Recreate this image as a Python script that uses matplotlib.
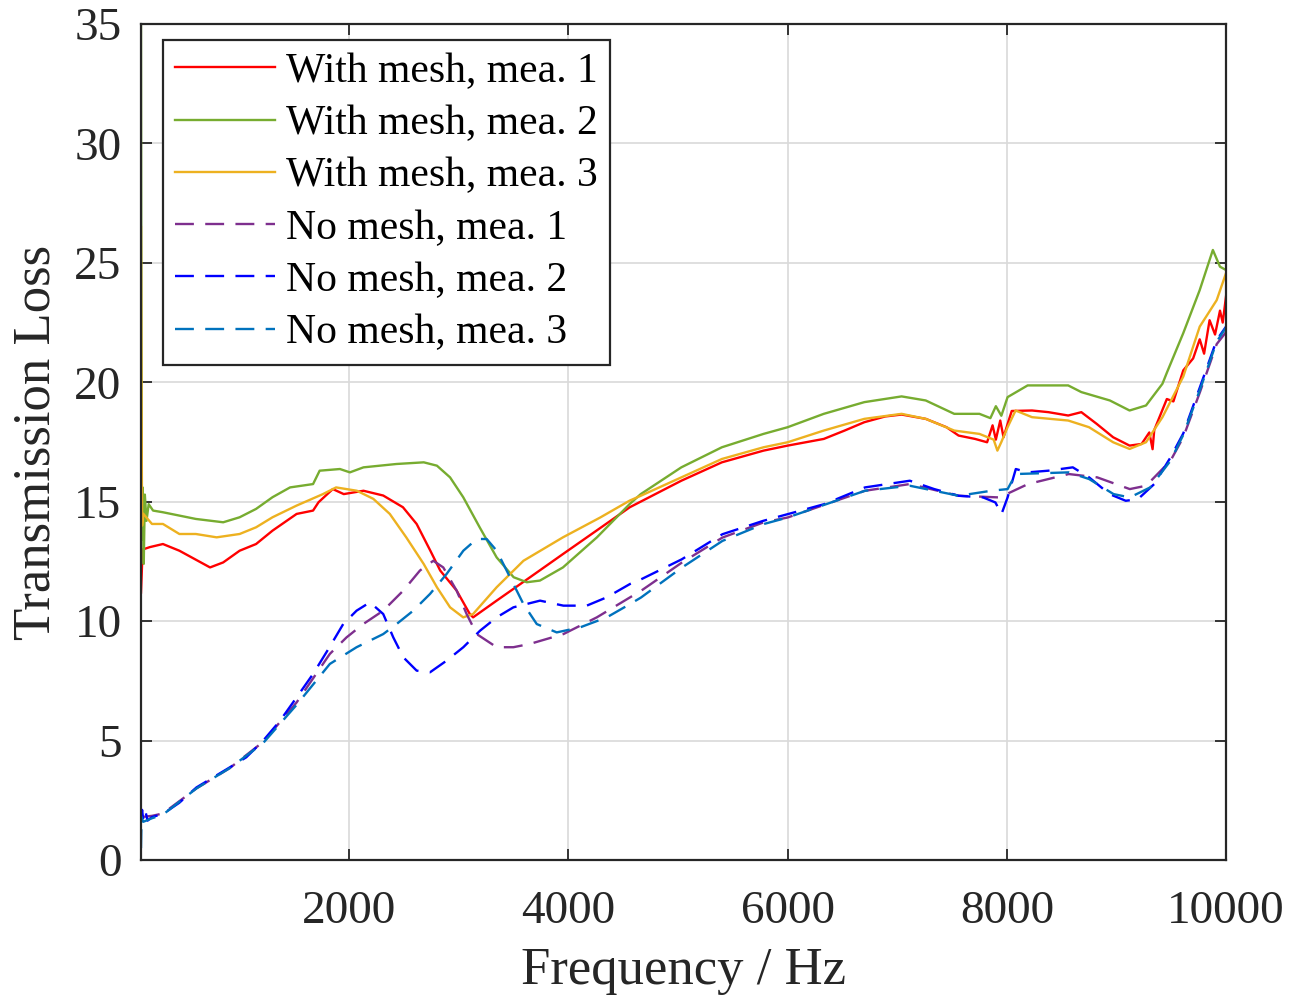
import matplotlib
matplotlib.use("Agg")
import matplotlib.pyplot as plt

plt.rcParams['font.family'] = ['Liberation Serif', 'DejaVu Serif']

# ---------------- data ----------------
labels = ["With mesh, mea. 1", "With mesh, mea. 2", "With mesh, mea. 3",
          "No mesh, mea. 1", "No mesh, mea. 2", "No mesh, mea. 3"]

f_w1 = [100, 115, 180, 300, 450, 730, 850, 1000, 1150, 1300, 1520, 1670, 1720, 1850,
        1950, 2130, 2310, 2490, 2615, 2740, 2830, 2980, 3100, 3130, 3345, 3650, 3950,
        4290, 4560, 5030, 5400, 5780, 6000, 6330, 6520, 6700, 6890, 7040, 7260, 7450,
        7560, 7710, 7820, 7870, 7900, 7940, 7970, 8010, 8045, 8230, 8380, 8560, 8680,
        8820, 8970, 9120, 9230, 9300, 9330, 9345, 9460, 9520, 9610, 9700, 9760, 9800,
        9850, 9900, 9945, 9970, 10000]
tl_w1 = [11.2, 13.0, 13.1, 13.23, 12.95, 12.25, 12.46, 12.95, 13.23, 13.79, 14.49, 14.63,
         14.98, 15.53, 15.32, 15.46, 15.26, 14.77, 14.07, 12.95, 12.12, 11.28, 10.30, 10.16,
         10.86, 11.84, 12.81, 13.9, 14.77, 15.88, 16.65, 17.14, 17.35, 17.63, 17.98, 18.33,
         18.57, 18.65, 18.47, 18.12, 17.77, 17.63, 17.49, 18.2, 17.6, 18.4, 17.7, 18.3, 18.8,
         18.82, 18.75, 18.61, 18.75, 18.26, 17.70, 17.35, 17.42, 17.9, 17.2, 18.0, 19.3,
         19.2, 20.5, 21.0, 21.8, 21.2, 22.6, 22.0, 23.0, 22.5, 23.6]

f_w2 = [100, 103, 108, 115, 125, 135, 150, 170, 210, 300, 450, 600, 850, 1000, 1150, 1300,
        1460, 1670, 1730, 1915, 2006, 2130, 2430, 2680, 2800, 2920, 3040, 3190, 3345, 3500,
        3620, 3740, 3950, 4260, 4560, 4660, 5030, 5400, 5780, 6000, 6330, 6700, 7040, 7260,
        7520, 7750, 7850, 7900, 7950, 8007, 8190, 8560, 8680, 8940, 9120, 9270, 9420, 9460,
        9610, 9760, 9880, 9945, 10000]
tl_w2 = [35.0, 22.0, 13.4, 15.6, 12.4, 15.3, 14.2, 14.9, 14.63, 14.56, 14.42, 14.28, 14.14,
         14.35, 14.70, 15.19, 15.60, 15.74, 16.30, 16.37, 16.23, 16.44, 16.58, 16.65, 16.51,
         16.02, 15.19, 13.93, 12.67, 11.84, 11.63, 11.70, 12.25, 13.51, 14.91, 15.32, 16.44,
         17.28, 17.84, 18.12, 18.68, 19.17, 19.41, 19.24, 18.68, 18.68, 18.5, 19.0, 18.6,
         19.38, 19.87, 19.87, 19.59, 19.24, 18.82, 19.03, 19.94, 20.4, 22.06, 23.86, 25.54,
         24.84, 24.7]

f_w3 = [100, 104, 110, 120, 200, 300, 450, 600, 790, 1000, 1150, 1300, 1520, 1760, 1880,
        2070, 2220, 2370, 2520, 2680, 2800, 2920, 3040, 3130, 3345, 3590, 3950, 4290, 4560,
        4660, 5030, 5400, 5780, 6000, 6330, 6700, 7040, 7260, 7520, 7750, 7880, 7914, 7950,
        8007, 8080, 8230, 8560, 8750, 8970, 9120, 9270, 9420, 9610, 9760, 9915, 10000]
tl_w3 = [26.5, 20.0, 14.0, 14.5, 14.07, 14.07, 13.65, 13.65, 13.51, 13.65, 13.93, 14.35,
         14.84, 15.32, 15.60, 15.46, 15.12, 14.49, 13.51, 12.39, 11.42, 10.58, 10.16, 10.30,
         11.42, 12.53, 13.51, 14.34, 15.05, 15.25, 16.02, 16.79, 17.28, 17.49, 17.98, 18.47,
         18.68, 18.47, 17.98, 17.84, 17.6, 17.14, 17.5, 18.12, 18.82, 18.54, 18.40, 18.12,
         17.49, 17.21, 17.49, 18.54, 20.24, 22.33, 23.44, 24.57]

f_n1 = [100, 200, 300, 606, 910, 1215, 1520, 1823, 1975, 2128, 2310, 2493, 2645, 2767, 2858,
        2980, 3071, 3163, 3345, 3498, 3650, 3954, 4259, 4563, 4662, 5034, 5405, 5777, 6000,
        6706, 7115, 7561, 7933, 8193, 8565, 8825, 9122, 9271, 9494, 9610, 9763, 9915, 10000]
tl_n1 = [1.8, 1.85, 1.95, 3.0, 3.85, 4.95, 6.6, 8.63, 9.32, 9.88, 10.44, 11.28, 12.12, 12.53,
         12.25, 11.28, 10.30, 9.46, 8.91, 8.91, 9.05, 9.46, 10.16, 11.0, 11.27, 12.45, 13.5,
         14.13, 14.34, 15.46, 15.74, 15.25, 15.18, 15.74, 16.16, 16.02, 15.53, 15.67, 16.72,
         17.7, 19.6, 21.6, 22.1]

f_n2 = [100, 110, 120, 140, 160, 200, 300, 450, 606, 910, 1060, 1215, 1370, 1520, 1670, 1820,
        1945, 2067, 2189, 2310, 2402, 2493, 2615, 2737, 2889, 3041, 3193, 3345, 3498, 3741,
        3954, 4167, 4350, 4563, 4662, 5034, 5405, 5777, 6000, 6335, 6706, 7115, 7338, 7561,
        7784, 7896, 7951, 8007, 8082, 8193, 8379, 8602, 8751, 8937, 9085, 9197, 9345, 9494,
        9610, 9763, 9915, 10000]
tl_n2 = [1.7, 2.1, 1.7, 2.05, 1.65, 1.8, 1.93, 2.4, 3.04, 3.88, 4.30, 5.0, 5.84, 6.81, 7.79,
         8.91, 9.88, 10.44, 10.79, 10.30, 9.32, 8.49, 7.93, 7.86, 8.35, 8.91, 9.60, 10.16,
         10.58, 10.86, 10.65, 10.65, 11.0, 11.56, 11.75, 12.59, 13.64, 14.2, 14.48, 14.9,
         15.6, 15.88, 15.53, 15.25, 15.18, 14.97, 14.48, 15.18, 16.37, 16.23, 16.30, 16.44,
         16.02, 15.32, 15.04, 15.11, 15.74, 16.86, 17.86, 19.81, 21.77, 22.33]

f_n3 = [100, 105, 120, 200, 300, 606, 910, 1215, 1520, 1823, 2067, 2310, 2432, 2584, 2737,
        2889, 3041, 3163, 3254, 3345, 3467, 3589, 3711, 3893, 4106, 4350, 4563, 4662, 5034,
        5405, 5777, 6000, 6706, 7115, 7561, 7858, 8007, 8082, 8565, 8751, 8974, 9122, 9308,
        9494, 9610, 9763, 9915, 10000]
tl_n3 = [0.5, 1.8, 1.6, 1.75, 1.9, 3.0, 3.85, 4.9, 6.5, 8.21, 8.91, 9.46, 9.88, 10.44, 11.14,
         11.98, 12.95, 13.44, 13.44, 12.95, 11.84, 10.72, 9.88, 9.53, 9.74, 10.16, 10.72,
         10.99, 12.24, 13.36, 14.06, 14.34, 15.46, 15.67, 15.25, 15.46, 15.53, 16.16, 16.23,
         15.95, 15.32, 15.18, 15.60, 16.72, 17.8, 19.7, 21.7, 22.3]

x_ticks = [2000, 4000, 6000, 8000, 10000]
y_ticks = [0, 5, 10, 15, 20, 25, 30, 35]

colors = ['#FF0000', '#77AC30', '#EDB120', '#7E2F8E', '#0000FF', '#0072BD']

# ---------------- figure ----------------
fig = plt.figure(figsize=(12.96, 9.96), dpi=100)
ax = fig.add_axes([0.1088, 0.1365, 0.946 - 0.1088, 0.9759 - 0.1365])

series = [(f_w1, tl_w1), (f_w2, tl_w2), (f_w3, tl_w3),
          (f_n1, tl_n1), (f_n2, tl_n2), (f_n3, tl_n3)]
for i, ((f, tl), lab, c) in enumerate(zip(series, labels, colors)):
    ln, = ax.plot(f, tl, color=c, lw=1.7, label=lab)
    if i >= 3:
        ln.set_dashes((8.0, 4.8))

ax.set_xlim(100, 10000)
ax.set_ylim(0, 35)
ax.set_xticks(x_ticks)
ax.set_yticks(y_ticks)
ax.grid(True, color='#d9d9d9', lw=1.2)
ax.set_axisbelow(True)

for s in ax.spines.values():
    s.set_color('#262626')
    s.set_linewidth(1.6)
ax.tick_params(direction='in', length=8, width=1.3, top=True, right=True,
               labelsize=34, colors='#262626')
ax.tick_params(axis='x', pad=22)
ax.tick_params(axis='y', pad=14)

ax.set_xlabel('Frequency / Hz', fontsize=38, color='#262626', labelpad=10)
ax.set_ylabel('Transmission Loss', fontsize=38, color='#262626', labelpad=10)

leg = ax.legend(loc='upper left', bbox_to_anchor=(0.02, 0.981), borderaxespad=0,
                fontsize=30, handlelength=2.4, handletextpad=0.25, labelspacing=0.33,
                borderpad=0.3, fancybox=False, framealpha=1, edgecolor='#262626')
leg.get_frame().set_linewidth(1.6)

fig.savefig('out.png', dpi=100)
